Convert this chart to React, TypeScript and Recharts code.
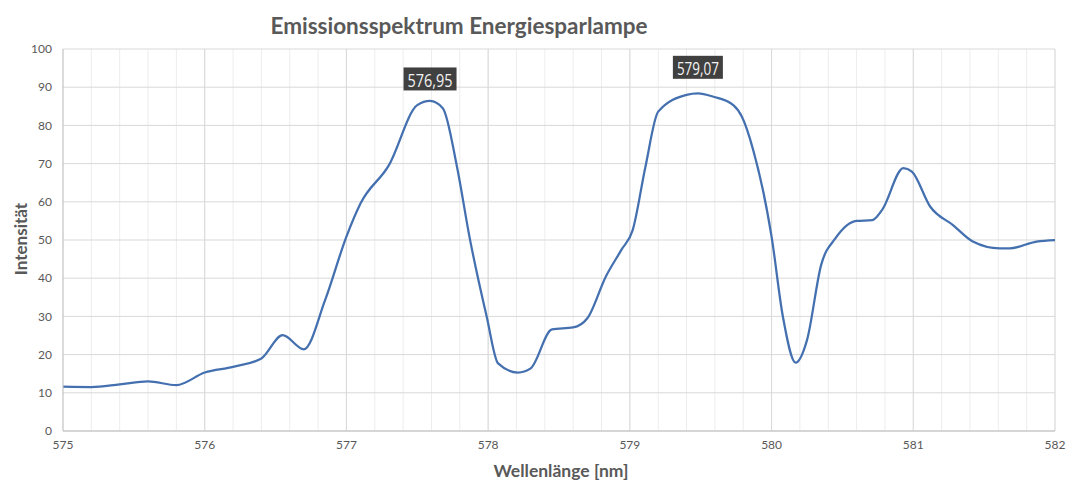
import React from 'react';
import { LineChart, Line, XAxis, YAxis, CartesianGrid, ReferenceLine, ReferenceDot } from 'recharts';

const wavelengths = [
  575, 575.2, 575.4, 575.6, 575.8, 576, 576.2, 576.4, 576.55, 576.7, 576.85, 577,
  577.1, 577.3, 577.5, 577.59, 577.68, 577.78, 577.87, 577.99, 578.07, 578.21, 578.3,
  578.45, 578.6, 578.7, 578.83, 578.94, 579.02, 579.11, 579.2, 579.4, 579.48, 579.59,
  579.73, 579.79, 579.87, 580.0, 580.08, 580.17, 580.25, 580.35, 580.45, 580.6, 580.71,
  580.78, 580.93, 580.99, 581.12, 581.28, 581.42, 581.61, 581.68, 581.87, 582,
];
const intensities = [
  11.6, 11.5, 12.2, 13.0, 12.0, 15.3, 16.8, 19.0, 25.1, 21.4, 34.3, 50.9,
  59.6, 69.6, 85.3, 86.4, 84.5, 69.2, 50.5, 29.9, 17.7, 15.3, 16.4,
  26.6, 27.1, 29.5, 40.4, 47.4, 52.6, 69.2, 83.6, 88.0, 88.4, 87.5,
  85.3, 82.3, 73.6, 50.9, 29.9, 17.9, 23.8, 43.5, 50.4, 55.0, 55.2,
  57.9, 68.8, 67.9, 58.7, 53.9, 49.6, 47.8, 47.8, 49.6, 50.0,
];
const xTicks = [
  575, 575.2, 575.4, 575.6, 575.8, 576, 576.2, 576.4, 576.6, 576.8, 577,
  577.2, 577.4, 577.6, 577.8, 578, 578.2, 578.4, 578.6, 578.8, 579,
  579.2, 579.4, 579.6, 579.8, 580, 580.2, 580.4, 580.6, 580.8, 581,
  581.2, 581.4, 581.6, 581.8, 582,
];
const majorX = [576, 577, 578, 579, 580, 581, 582];
const yTicks = [0, 10, 20, 30, 40, 50, 60, 70, 80, 90, 100];
const peakLabels = [
  { x: 577.59, y: 86.4, text: '576,95', dy: -22, w: 53 },
  { x: 579.48, y: 88.4, text: '579,07', dy: -26, w: 50 },
];

const data = wavelengths.map((w, i) => ({ w, v: intensities[i] }));

const FONT = 'Lato, "Open Sans", sans-serif';

const PeakLabel = (props: any) => {
  const { viewBox, text, dy, w } = props;
  const cx = viewBox.x;
  const cy = viewBox.y + dy;
  const h = 23;
  return (
    <g>
      <rect x={cx - w / 2} y={cy - h / 2} width={w} height={h} fill="#404040" />
      <text
        x={cx}
        y={cy + 1}
        textAnchor="middle"
        dominantBaseline="central"
        fill="#f2f2f2"
        fontSize={19}
        textLength={w - 8}
        lengthAdjust="spacingAndGlyphs"
        fontFamily='"Liberation Sans Narrow", "Open Sans", sans-serif'
      >
        {text}
      </text>
    </g>
  );
};

export default function App() {
  return (
    <div style={{ position: 'absolute', left: 0, top: 0, width: 1068, height: 491, background: '#ffffff' }}>
      <LineChart
        width={1068}
        height={491}
        data={data}
        margin={{ top: 49, right: 13, bottom: 30, left: 13 }}
      >
        <CartesianGrid horizontal={false} vertical stroke="#ededed" strokeWidth={1} />
        <CartesianGrid horizontal vertical={false} stroke="#d9d9d9" strokeWidth={1} />
        {majorX.map((x) => (
          <ReferenceLine key={x} x={x} stroke="#d9d9d9" strokeWidth={1} />
        ))}
        <XAxis
          dataKey="w"
          type="number"
          domain={[575, 582]}
          ticks={xTicks}
          interval={0}
          tickFormatter={(v: number) => (Math.abs(v - Math.round(v)) < 1e-6 ? String(Math.round(v)) : '')}
          tickLine={false}
          tickSize={0}
          tickMargin={9}
          height={30}
          axisLine={{ stroke: '#bfbfbf' }}
          tick={{ fill: '#595959', fontSize: 12, fontFamily: FONT }}
          allowDataOverflow
        />
        <YAxis
          type="number"
          domain={[0, 100]}
          ticks={yTicks}
          interval={0}
          width={50}
          tickLine={false}
          tickSize={0}
          tickMargin={11}
          axisLine={{ stroke: '#bfbfbf' }}
          tick={{ fill: '#595959', fontSize: 12, fontFamily: FONT }}
        />
        <Line
          type="monotone"
          dataKey="v"
          stroke="#4470b0"
          strokeWidth={2.25}
          dot={false}
          isAnimationActive={false}
        />
        {peakLabels.map((p) => (
          <ReferenceDot
            key={p.text}
            x={p.x}
            y={p.y}
            r={0}
            fill="none"
            stroke="none"
            label={(props: any) => <PeakLabel {...props} text={p.text} dy={p.dy} w={p.w} />}
          />
        ))}
        <text x={459} y={25} textAnchor="middle" dominantBaseline="central" fill="#595959" fontSize={22.5} fontWeight={700} fontFamily={FONT}>
          Emissionsspektrum Energiesparlampe
        </text>
        <text x={561} y={470} textAnchor="middle" dominantBaseline="central" fill="#595959" fontSize={17.5} fontWeight={700} fontFamily={FONT}>
          Wellenlänge [nm]
        </text>
        <text
          x={20}
          y={239}
          textAnchor="middle"
          dominantBaseline="central"
          fill="#595959"
          fontSize={17}
          fontWeight={700}
          fontFamily={FONT}
          transform="rotate(-90 20 239)"
        >
          Intensität
        </text>
      </LineChart>
    </div>
  );
}
